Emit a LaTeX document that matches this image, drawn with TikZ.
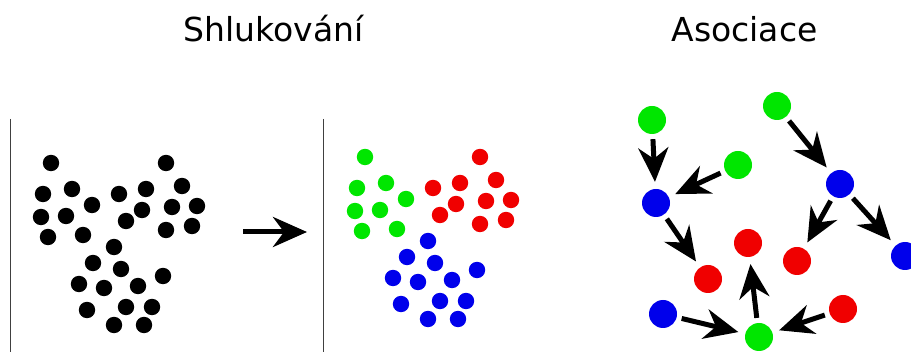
\documentclass[tikz,border=0pt]{standalone}
\usepackage{fontspec}
\setmainfont{DejaVu Sans}
\usetikzlibrary{arrows.meta}
\definecolor{grn}{RGB}{0,230,0}
\definecolor{rd}{RGB}{240,0,0}
\definecolor{blu}{RGB}{0,0,235}

\tikzset{
  title/.style={font=\fontsize{33}{40}\selectfont, anchor=base, inner sep=0pt},
  item/.style={circle, inner sep=0pt, minimum size=28pt},
  link/.style={-{Stealth[length=34pt,width=30pt,inset=11pt]}, line width=5pt},
  assoc/.style={link, shorten <=5pt, shorten >=7pt},
  divider/.style={draw=black!75, line width=1pt}
}

% one pattern, coloured by cluster in the middle panel
\def\clusterdots{51/163/grn, 43/194/grn, 72/189/grn, 92/205/grn, 41/217/grn,
  66/216/grn, 48/237/grn, 83/235/grn,
  119/194/rd, 146/189/rd, 126/221/rd, 142/210/rd, 166/163/rd, 182/186/rd,
  172/207/rd, 197/206/rd, 166/230/rd, 192/226/rd,
  114/247/blu, 93/263/blu, 121/269/blu, 163/276/blu, 79/284/blu, 104/288/blu,
  138/286/blu, 87/310/blu, 126/307/blu, 152/307/blu, 114/325/blu, 144/325/blu}

\begin{document}
\begin{tikzpicture}[x=1pt, y=-1pt]
  \fill[white] (0,0) rectangle (911,352);
  \useasboundingbox (0,0) rectangle (911,352);

  \node[title] (clusterTitle) at (273.5,42) {Shlukování};
  \node[title] (assocTitle) at (744.5,42) {Asociace};

  % dividers
  \draw[divider] (10,119) -- (10,352);
  \draw[divider] (323,119) -- (323,352);

  % raw points
  \foreach \x/\y/\c in \clusterdots
    \fill[black] (\x,\y) circle (8.2);

  \coordinate (stepFrom) at (243,232);
  \coordinate (stepTo) at (307,232);
  \draw[link] (stepFrom) -- (stepTo);

  % clustered points
  \begin{scope}[shift={(314,-6)}]
    \foreach \x/\y/\c in \clusterdots
      \fill[\c] (\x,\y) circle (8.2);
  \end{scope}

  % association graph
  \node[item, fill=grn] (g1) at (652,120) {};
  \node[item, fill=grn] (g2) at (738,165) {};
  \node[item, fill=blu] (b1) at (656,203) {};
  \node[item, fill=grn] (g3) at (777,106) {};
  \node[item, fill=blu] (b2) at (840,184) {};
  \node[item, fill=rd]  (r1) at (748,243) {};
  \node[item, fill=rd]  (r2) at (797,261) {};
  \node[item, fill=blu] (b3) at (905,256) {};
  \node[item, fill=rd]  (r3) at (708,279) {};
  \node[item, fill=blu] (b4) at (663,314) {};
  \node[item, fill=grn] (g4) at (759,337) {};
  \node[item, fill=rd]  (r4) at (843,309) {};

  \draw[assoc] (g1) -- (b1);
  \draw[assoc] (g2) -- (b1);
  \draw[assoc] (b1) -- (r3);
  \draw[assoc] (g3) -- (b2);
  \draw[assoc] (b2) -- (r2);
  \draw[assoc] (b2) -- (b3);
  \draw[assoc] (g4) -- (r1);
  \draw[assoc] (b4) -- (g4);
  \draw[assoc] (r4) -- (g4);
\end{tikzpicture}
\end{document}
